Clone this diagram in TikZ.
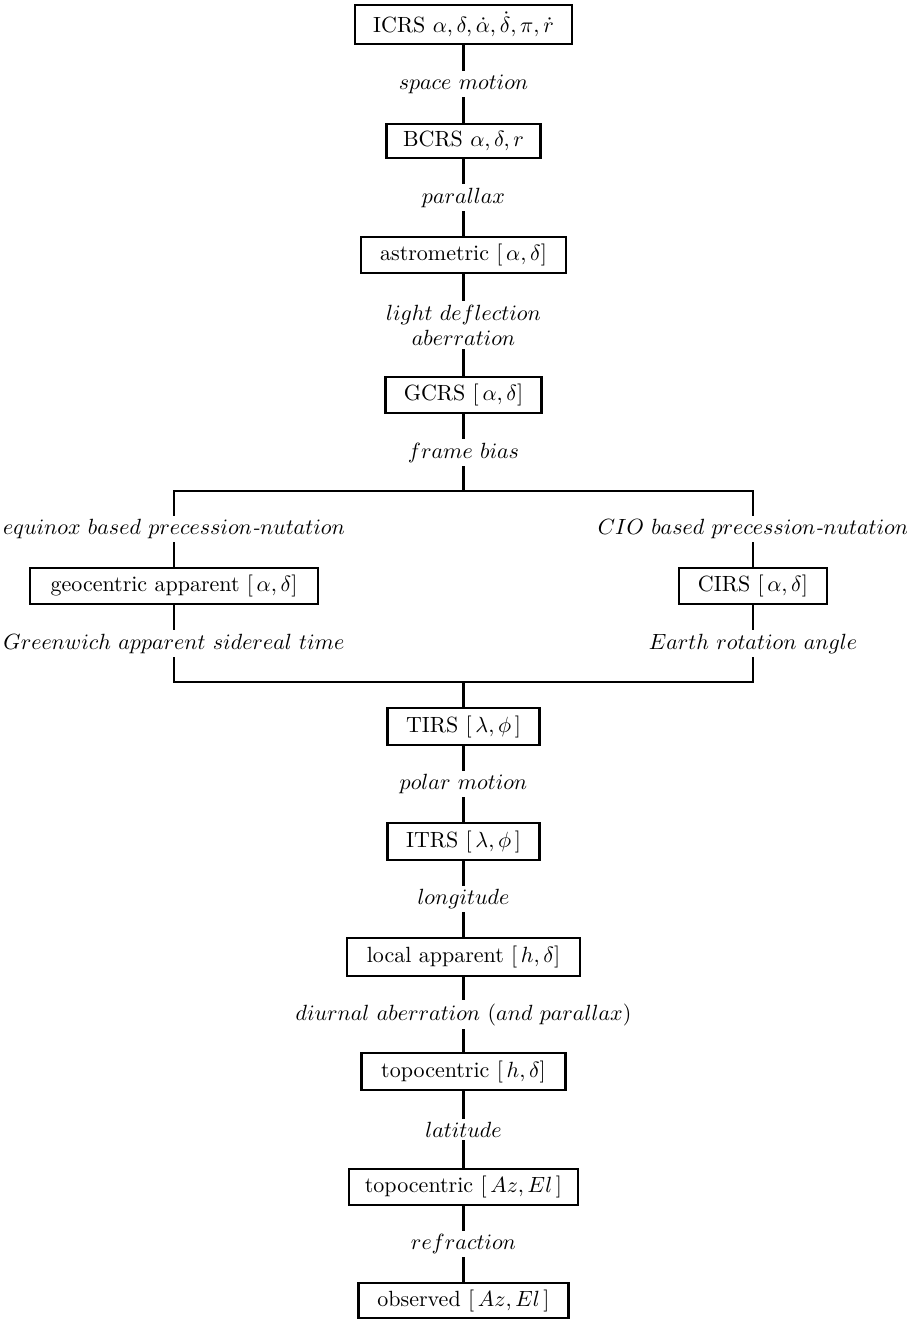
\documentclass[tikz,border=0pt]{standalone}
\newcommand{\pxu}{0.4545pt}
\begin{document}
\begin{tikzpicture}[x=0.4545pt, y=-0.4545pt,
  frame/.style={draw, line width=1pt, inner sep=1pt, fill=white},
  lbl/.style={fill=white, inner sep=1.5pt, align=center},
  link/.style={line width=1pt}]
\useasboundingbox (0,0) rectangle (906,1320);

% boxes
\node[frame, minimum width=217*\pxu, minimum height=39*\pxu] (icrs) at (463.5,24.5)
  {ICRS $\alpha,\delta,\dot\alpha,\dot\delta,\pi,\dot r$};
\node[frame, minimum width=154*\pxu, minimum height=34*\pxu] (bcrs) at (463.5,141)
  {BCRS $\alpha,\delta,r$};
\node[frame, minimum width=205*\pxu, minimum height=36*\pxu] (astr) at (463.5,255)
  {astrometric $[\,\alpha,\delta]$};
\node[frame, minimum width=156*\pxu, minimum height=36*\pxu] (gcrs) at (463.5,395)
  {GCRS $[\,\alpha,\delta]$};
\node[frame, minimum width=288*\pxu, minimum height=36*\pxu] (geo) at (174,586)
  {geocentric apparent $[\,\alpha,\delta]$};
\node[frame, minimum width=148*\pxu, minimum height=36*\pxu] (cirs) at (753,586)
  {CIRS $[\,\alpha,\delta]$};
\node[frame, minimum width=152*\pxu, minimum height=37*\pxu] (tirs) at (463.5,726.5)
  {TIRS $[\,\lambda,\phi\,]$};
\node[frame, minimum width=152*\pxu, minimum height=37*\pxu] (itrs) at (463.5,841.5)
  {ITRS $[\,\lambda,\phi\,]$};
\node[frame, minimum width=233*\pxu, minimum height=38*\pxu] (loc) at (463.5,957)
  {local apparent $[\,h,\delta]$};
\node[frame, minimum width=204*\pxu, minimum height=37*\pxu] (toph) at (463.5,1071.5)
  {topocentric $[\,h,\delta]$};
\node[frame, minimum width=229*\pxu, minimum height=36*\pxu] (topaz) at (463.5,1187)
  {topocentric $[\,Az,El\,]$};
\node[frame, minimum width=210*\pxu, minimum height=35*\pxu] (obs) at (463.5,1300.5)
  {observed $[\,Az,El\,]$};

% junction points
\coordinate (split) at (463.5,491);
\coordinate (lsplit) at (174,491);
\coordinate (rsplit) at (753,491);
\coordinate (merge) at (463.5,682);
\coordinate (lmerge) at (174,682);
\coordinate (rmerge) at (753,682);

% connectors
\draw[link] (icrs) -- node[lbl] {$space\ motion$} (bcrs);
\draw[link] (bcrs) -- node[lbl] {$parallax$} (astr);
\draw[link] (astr) -- node[lbl] {$light\ deflection$\\[-0.5pt]$aberration$} (gcrs);
\draw[link] (gcrs) -- node[lbl] {$frame\ bias$} (split);
\draw[link] (geo) -- node[lbl] {$equinox\ based\ precession\textit{-}nutation$} (lsplit)
  -- (rsplit) -- node[lbl] {$CIO\ based\ precession\textit{-}nutation$} (cirs);
\draw[link] (geo) -- node[lbl] {$Greenwich\ apparent\ sidereal\ time$} (lmerge)
  -- (rmerge) -- node[lbl] {$Earth\ rotation\ angle$} (cirs);
\draw[link] (merge) -- (tirs);
\draw[link] (tirs) -- node[lbl] {$polar\ motion$} (itrs);
\draw[link] (itrs) -- node[lbl] {$longitude$} (loc);
\draw[link] (loc) -- node[lbl] {$diurnal\ aberration\ (and\ parallax)$} (toph);
\draw[link] (toph) -- node[lbl] {$latitude$} (topaz);
\draw[link] (topaz) -- node[lbl] {$refraction$} (obs);
\end{tikzpicture}
\end{document}
